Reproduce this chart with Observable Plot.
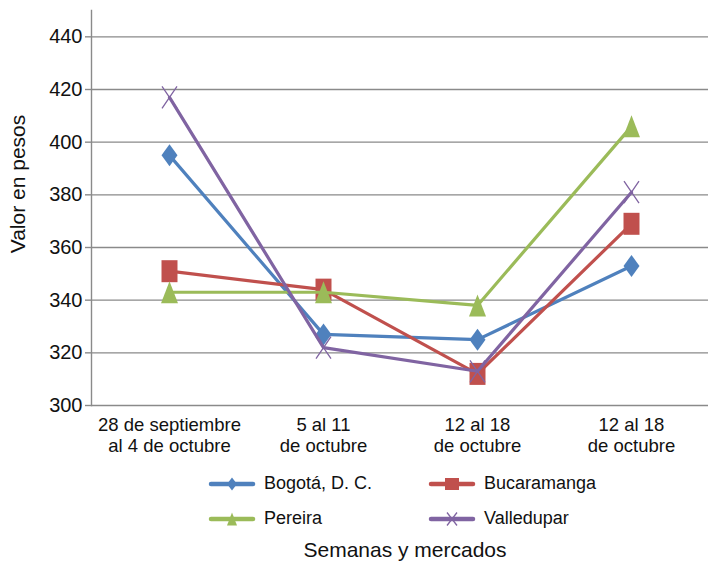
<!DOCTYPE html>
<html>
<head>
<meta charset="utf-8">
<script src="https://cdn.jsdelivr.net/npm/d3@7"></script>
<script src="https://cdn.jsdelivr.net/npm/@observablehq/plot@0.6"></script>
<style>
  body { margin: 0; background: #fff; font-family: "Liberation Sans", Arial, sans-serif; }
  #wrap { position: relative; width: 708px; height: 563px; }
  #legend { position: absolute; left: 208px; top: 466px; display: grid; grid-template-columns: 220px 200px; grid-auto-rows: 35px; font-size: 18px; color: #111; }
  .item { display: flex; align-items: center; }
  .item svg { margin-right: 8px; }
  #xtitle { position: absolute; left: 0; width: 810px; top: 538px; text-align: center; font-size: 21px; color: #111; }
</style>
</head>
<body>
<div id="wrap">
  <div id="chart"></div>
  <div id="legend"></div>
  <div id="xtitle">Semanas y mercados</div>
</div>
<script>
const weeks = ["28 de septiembre\nal 4 de octubre", "5 al 11\nde octubre", "12 al 18\nde octubre", "12 al 18\nde octubre"];
const seriesNames = ["Bogotá, D. C.", "Bucaramanga", "Pereira", "Valledupar"];
const bogota = [395, 327, 325, 353];
const bucaramanga = [351, 344, 312, 369];
const pereira = [343, 343, 338, 406];
const valledupar = [417, 322, 313, 381];
const colors = ["#4F81BD", "#C0504D", "#9BBB59", "#8064A2"];
const yTicks = [300, 320, 340, 360, 380, 400, 420, 440];

// custom marker shapes (vertically stretched like the reference)
function makeSym(kind, w, h) {
  return {
    draw(ctx) {
      const a = w / 2, b = h / 2;
      if (kind === "diamond") {
        ctx.moveTo(0, -b); ctx.lineTo(a, 0); ctx.lineTo(0, b); ctx.lineTo(-a, 0); ctx.closePath();
      } else if (kind === "square") {
        ctx.moveTo(-a, -b); ctx.lineTo(a, -b); ctx.lineTo(a, b); ctx.lineTo(-a, b); ctx.closePath();
      } else if (kind === "triangle") {
        ctx.moveTo(0, -b); ctx.lineTo(a, b); ctx.lineTo(-a, b); ctx.closePath();
      } else {
        ctx.moveTo(-a, -b); ctx.lineTo(a, b); ctx.moveTo(a, -b); ctx.lineTo(-a, b);
      }
    }
  };
}
const kinds = ["diamond", "square", "triangle", "x"];
const dims = [[16, 22], [16, 22], [17, 22], [15, 22]];

const allValues = [bogota, bucaramanga, pereira, valledupar];
const marks = [
  Plot.ruleY(yTicks, {stroke: "#8a8a8a", strokeWidth: 1.4}),
  Plot.frame({anchor: "left", stroke: "#8a8a8a", strokeWidth: 1.4}),
  Plot.axisY({ticks: yTicks, tickSize: 6, stroke: "#8a8a8a", strokeWidth: 1.4, fill: "none", label: null}),
  Plot.text(yTicks, {y: d => d, text: d => String(d), frameAnchor: "left", textAnchor: "end", dx: -9, fontSize: 20, fill: "#111"}),
  Plot.axisX({tickSize: 0, tickPadding: 10, fontSize: 18.5, label: null, tickFormat: i => weeks[i], lineHeight: 1.15}),
  Plot.text(["Valor en pesos"], {frameAnchor: "left", textAnchor: "middle", rotate: -90, dx: -73, dy: -24, fontSize: 21, fill: "#111"})
];
allValues.forEach((vals, s) => {
  const rows = vals.map((v, i) => ({i, v}));
  marks.push(Plot.line(rows, {x: "i", y: "v", stroke: colors[s], strokeWidth: 3.2}));
  if (kinds[s] === "x") {
    marks.push(Plot.dot(rows, {x: "i", y: "v", symbol: makeSym("x", ...dims[s]), fill: "none", stroke: colors[s], strokeWidth: 1.3}));
  } else {
    marks.push(Plot.dot(rows, {x: "i", y: "v", symbol: makeSym(kinds[s], ...dims[s]), fill: colors[s], stroke: "none"}));
  }
});

const chart = Plot.plot({
  width: 708,
  height: 460,
  marginTop: 10,
  marginBottom: 55,
  marginLeft: 91,
  marginRight: 0,
  style: {fontFamily: "'Liberation Sans', Arial, sans-serif", color: "#111", background: "#fff"},
  x: {type: "point", domain: weeks.map((_, i) => i), padding: 0.5, axis: null},
  y: {domain: [300, 450], axis: null},
  marks
});
document.getElementById("chart").appendChild(chart);

// legend
const legend = document.getElementById("legend");
const order = [0, 1, 2, 3];
order.forEach(s => {
  const item = document.createElement("div");
  item.className = "item";
  const ns = "http://www.w3.org/2000/svg";
  const svg = document.createElementNS(ns, "svg");
  svg.setAttribute("width", 48); svg.setAttribute("height", 20);
  const line = document.createElementNS(ns, "line");
  line.setAttribute("x1", 3); line.setAttribute("x2", 45); line.setAttribute("y1", 10); line.setAttribute("y2", 10);
  line.setAttribute("stroke", colors[s]); line.setAttribute("stroke-width", 4.5); line.setAttribute("stroke-linecap", "round");
  svg.appendChild(line);
  const p = d3.path();
  const [w, h] = kinds[s] === "square" ? [14, 12] : [10, 13];
  makeSym(kinds[s], w, h).draw(p);
  const path = document.createElementNS(ns, "path");
  path.setAttribute("d", p.toString());
  path.setAttribute("transform", "translate(24,10)");
  if (kinds[s] === "x") { path.setAttribute("fill", "none"); path.setAttribute("stroke", colors[s]); path.setAttribute("stroke-width", 1.3); }
  else path.setAttribute("fill", colors[s]);
  svg.appendChild(path);
  item.appendChild(svg);
  const span = document.createElement("span");
  span.textContent = seriesNames[s];
  item.appendChild(span);
  legend.appendChild(item);
});
</script>
</body>
</html>
